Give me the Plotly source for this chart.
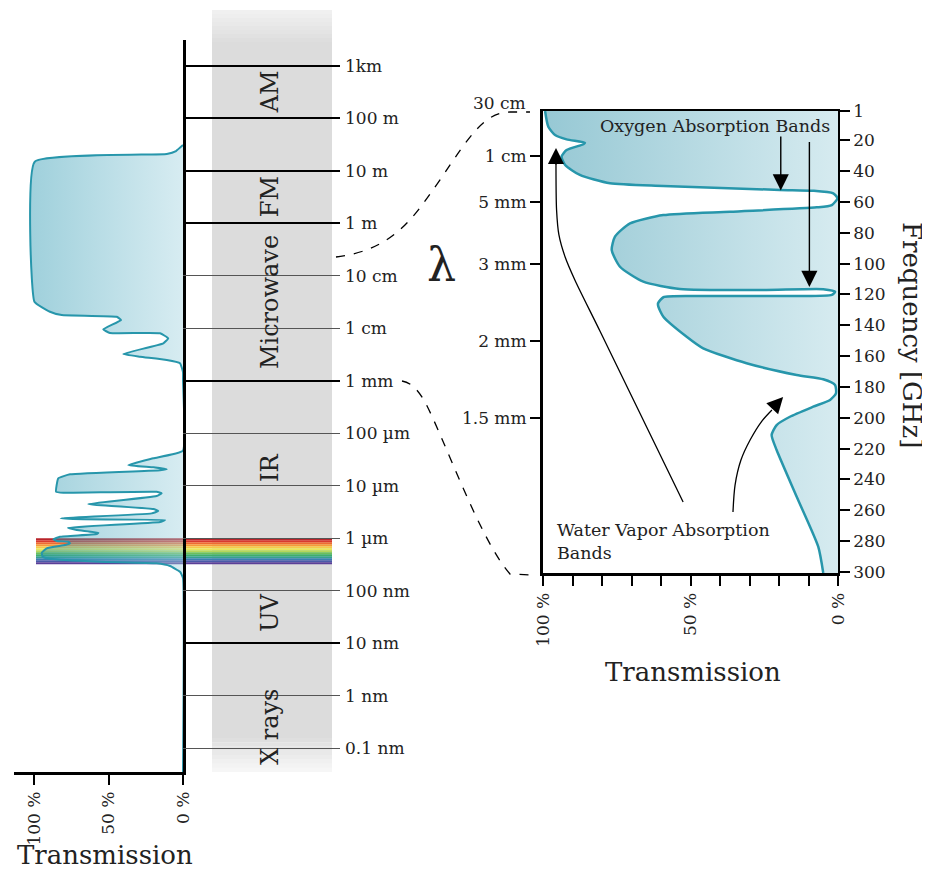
import plotly.graph_objects as go

# page body has an 8px margin: reference pixel coords are shifted by 8
W, H, OFF = 922, 863, 8
def px(x): return (x - OFF) / W
def py(y): return 1 - (y - OFF) / H

FONT = 'DejaVu Serif'
TEAL = '#2796ab'

# ---------------- Left panel: transmission vs wavelength (log10 of wavelength in m)
left_log_wl = [1.494, 1.380, 1.323, 1.176, -1.493, -1.684, -1.747, -1.779, -1.842, -2.019,
               -2.089, -2.095, -2.191, -2.286, -2.490, -2.541, -2.604, -2.667, -2.833, -2.986,
               -4.333, -4.478, -4.606, -4.650, -4.688, -4.707, -4.783, -4.859, -5.115, -5.134,
               -5.115, -5.145, -5.197, -5.349, -5.368, -5.445, -5.483, -5.527, -5.622, -5.641,
               -5.654, -5.692, -5.803, -5.845, -5.897, -5.921, -5.973, -6.022, -6.055, -6.068,
               -6.098, -6.131, -6.194, -6.278, -6.354, -6.392, -6.449, -6.480, -6.531, -6.640,
               -6.760, -10.457]
left_trans = [0, 4.7, 10.9, 99.5, 99.7, 89.3, 81.4, 44.5, 41.6, 53.5,
              49.0, 15.4, 9.9, 13.2, 40.1, 28.9, 10.9, 2.0, 0, 0,
              0, 19.9, 36.7, 19.9, 10.9, 15.4, 75.8, 83.7, 85.2, 80.3,
              17.7, 14.3, 17.7, 63.6, 57.9, 19.9, 16.6, 21.0, 82.1, 66.9,
              12.1, 15.4, 77.2, 71.3, 56.8, 57.9, 82.6, 87.0, 84.8, 77.0,
              75.8, 79.2, 91.5, 94.8, 94.2, 89.3, 55.7, 17.7, 8.7, 2.0,
              0, 0]

scale_log = [3, 2, 1, 0, -1, -2, -3, -4, -5, -6, -7, -8, -9, -10]
scale_labels = ['1km', '100 m', '10 m', '1 m', '10 cm', '1 cm', '1 mm', '100 µm', '10 µm',
                '1 µm', '100 nm', '10 nm', '1 nm', '0.1 nm']
scale_major = [True, True, True, True, False, False, True, False, False, False, False, True, False, False]

band_names = ['AM', 'FM', 'Microwave', 'IR', 'UV', 'X rays']
band_centers_log = [2.5, 0.5, -1.5, -4.66, -7.42, -9.6]

visible_log = [-6.0, -6.496]
rainbow_colors = ['#b8232a', '#d93a2f', '#ee6a33', '#f59a3a', '#f6c94a', '#e9e65a', '#b5d65a',
                  '#6cbf5a', '#3fae6a', '#36a08f', '#3a7fb0', '#4a5aa8', '#5a3f98']

# ---------------- Right panel: transmission vs frequency (GHz)
freq_ghz = [1, 11.2, 16.6, 19.4, 21.6, 22.6, 26.3, 30.6, 36.0, 42.5, 47.9, 49.6, 52.2, 52.7,
            54.4, 57.6, 62.0, 63.5, 66.3, 68.5, 73.9, 82.5, 91.2, 102.0, 111.7, 116.4, 117.1,
            116.6, 118.2, 120.3, 121.0, 121.0, 121.8, 125.7, 127.9, 134.4, 147.4, 154.9, 164.6,
            172.2, 175.0, 178.7, 184.1, 188.4, 192.8, 199.3, 204.7, 211.1, 220.9, 251.2, 283.6, 300.6]
trans_mw = [99.3, 98.2, 95.9, 92.0, 85.8, 86.3, 92.0, 93.7, 92.5, 87.5, 77.3, 59.2, 19.7, 8.4,
            1.6, 0.2, 2.1, 7.2, 36.6, 59.2, 70.5, 75.6, 76.7, 73.9, 66.0, 53.6, 25.3,
            5.0, 1.0, 2.1, 14.0, 47.9, 59.2, 61.0, 60.9, 59.2, 51.3, 45.7, 31.0,
            14.0, 5.0, 1.0, 0.7, 2.7, 8.4, 16.3, 20.8, 22.5, 20.8, 14.0, 6.7, 5.0]

freq_ticks = [1, 20, 40, 60, 80, 100, 120, 140, 160, 180, 200, 220, 240, 260, 280, 300]
wl_tick_freq = [30, 60, 100, 150, 200]
wl_tick_labels = ['1 cm', '5 mm', '3 mm', '2 mm', '1.5 mm']
trans_ticks = list(range(0, 101, 10))
trans_ticktext = ['0 %' if v == 0 else '50 %' if v == 50 else '100 %' if v == 100 else '' for v in trans_ticks]

# annotation arrow geometry (transmission %, GHz)
wv_arrow1_t = [52.5, 80.7, 89.2, 92.5, 94.6, 95.4, 95.6]
wv_arrow1_f = [254.6, 143.7, 110.6, 95.7, 81.4, 65.2, 30.0]
wv_arrow2_t = [35.6, 34.9, 32.9, 29.8, 25.8, 22.4]
wv_arrow2_f = [261.1, 243.6, 227.4, 214.4, 202.1, 194.9]

fig = go.Figure()

fig.add_trace(go.Scatter(
    x=left_trans, y=left_log_wl, xaxis='x', yaxis='y', mode='lines',
    line=dict(color=TEAL, width=2, shape='spline', smoothing=0.35),
    fill='tozerox',
    fillgradient=dict(type='horizontal', start=100, stop=0,
                      colorscale=[[0, 'rgba(30,145,172,0.42)'], [1, 'rgba(160,210,223,0.42)']]),
    hoverinfo='skip'))

fig.add_trace(go.Scatter(
    x=trans_mw, y=freq_ghz, xaxis='x2', yaxis='y2', mode='lines',
    line=dict(color=TEAL, width=2.5, shape='spline', smoothing=0.6),
    fill='tozerox',
    fillgradient=dict(type='horizontal', start=100, stop=0,
                      colorscale=[[0, '#96c8d4'], [1, '#d6ebf0']]),
    hoverinfo='skip'))

for xs, ys in [(wv_arrow1_t, wv_arrow1_f), (wv_arrow2_t, wv_arrow2_f)]:
    fig.add_trace(go.Scatter(x=xs, y=ys, xaxis='x2', yaxis='y2', mode='lines',
                             line=dict(color='black', width=1.3, shape='spline', smoothing=0.8),
                             hoverinfo='skip'))

for xa, ya in [('x4', 'y4'), ('x4', 'y5'), ('x2', 'y3'), ('x3', 'y2')]:
    fig.add_trace(go.Scatter(x=[], y=[], xaxis=xa, yaxis=ya, hoverinfo='skip'))

shapes = []
# grey band with faded ends
band_x0, band_x1 = px(212), px(332)
shapes.append(dict(type='rect', xref='paper', yref='paper', x0=band_x0, x1=band_x1,
                   y0=py(738), y1=py(42), fillcolor='#dcdcdc', line_width=0, layer='below'))
n = 8
for i in range(n):
    a = (i + 1) / (n + 1)
    t0 = 10 + 32 * i / n
    t1 = 10 + 32 * (i + 1) / n
    shapes.append(dict(type='rect', xref='paper', yref='paper', x0=band_x0, x1=band_x1,
                       y0=py(t1), y1=py(t0), fillcolor='rgba(220,220,220,%.3f)' % (0.35 + 0.65 * a),
                       line_width=0, layer='below'))
    b0 = 738 + 34 * i / n
    b1 = 738 + 34 * (i + 1) / n
    shapes.append(dict(type='rect', xref='paper', yref='paper', x0=band_x0, x1=band_x1,
                       y0=py(b1), y1=py(b0), fillcolor='rgba(220,220,220,%.3f)' % (1 - 0.85 * a),
                       line_width=0, layer='below'))
# rainbow (visible light)
nr = len(rainbow_colors)
for i, c in enumerate(rainbow_colors):
    y_top = visible_log[0] + (visible_log[1] - visible_log[0]) * i / nr
    y_bot = visible_log[0] + (visible_log[1] - visible_log[0]) * (i + 1) / nr
    shapes.append(dict(type='rect', xref='paper', yref='y4', x0=px(36), x1=px(332),
                       y0=y_bot, y1=y_top, fillcolor=c, line_width=0, layer='below'))

def path(cmds):
    s = ''
    for c, pts in cmds:
        s += c + ' ' + ' '.join('%.5f,%.5f' % (px(a), py(b)) for a, b in pts) + ' '
    return s.strip()

shapes.append(dict(type='path', xref='paper', yref='paper',
                   path=path([('M', [(336, 257)]), ('C', [(395, 250), (415, 215), (440, 180)]),
                              ('C', [(470, 135), (485, 112), (510, 112)]), ('L', [(530, 112)])]),
                   line=dict(color='black', width=1.3, dash='dash')))
shapes.append(dict(type='path', xref='paper', yref='paper',
                   path=path([('M', [(402, 381)]), ('C', [(412, 383), (418, 390), (425, 402)]),
                              ('C', [(445, 440), (480, 540), (510, 574)]), ('L', [(530, 575)])]),
                   line=dict(color='black', width=1.3, dash='dash')))

ann = []
for name, c in zip(band_names, band_centers_log):
    ann.append(dict(text=name, xref='paper', yref='y4', x=px(270), y=c, textangle=-90,
                    xanchor='center', yanchor='middle',
                    showarrow=False, font=dict(family=FONT, size=24, color='#222')))

def txt(t, x, y, size=16, **kw):
    d = dict(text=t, xref='paper', yref='paper', x=px(x), y=py(y), showarrow=False,
             xanchor='center', yanchor='middle',
             font=dict(family=FONT, size=size, color='#222'))
    d.update(kw)
    ann.append(d)

txt('Transmission', 105, 871, 26, yanchor='bottom', borderpad=0)
txt('Transmission', 693, 672, 26)
txt('Frequency [GHz]', 912, 335, 26, textangle=90)
txt('λ', 441, 265, 46)
txt('30 cm', 500, 103, 17)
txt('Oxygen Absorption Bands', 715, 126, 17.5)
txt('Water Vapor Absorption<br>Bands', 555, 541, 17.5, xanchor='left', align='left')

# straight oxygen arrows
for t, f_tip, f_tail in [(19.4, 52.5, 16.6), (9.7, 115.1, 20.2)]:
    ann.append(dict(text='', x=t, y=f_tip, ax=t, ay=f_tail, xref='x2', yref='y2',
                    axref='x2', ayref='y2', showarrow=True, arrowhead=2, arrowsize=2.3,
                    arrowwidth=1.4, arrowcolor='black', standoff=0))
# heads for curved water vapour arrows
ann.append(dict(text='', x=95.6, y=25.0, ax=0, ay=18, xref='x2', yref='y2', showarrow=True,
                arrowhead=2, arrowsize=2.3, arrowwidth=1.4, arrowcolor='black', standoff=0))
ann.append(dict(text='', x=18.6, y=186.5, ax=-12, ay=13, xref='x2', yref='y2', showarrow=True,
                arrowhead=2, arrowsize=2.3, arrowwidth=1.4, arrowcolor='black', standoff=0))

tickfont = dict(family=FONT, size=17, color='#222')
left_range = [-10.457, 3.496]
right_range = [300.65, 1]
base = dict(showgrid=False, zeroline=False)

fig.update_layout(
    width=W, height=H, margin=dict(l=0, r=0, t=0, b=0),
    paper_bgcolor='white', plot_bgcolor='rgba(0,0,0,0)', showlegend=False,
    template='none',
    xaxis=dict(base, domain=[px(14), px(183)], range=[113.42, 0], anchor='y',
               showline=True, linewidth=2.5, linecolor='black', ticks='outside', ticklen=10,
               tickwidth=2, tickcolor='black', tickmode='array', tickvals=[100, 50, 0],
               ticktext=['100 %', '50 %', '0 %'], tickangle=-90, tickfont=tickfont),
    yaxis=dict(base, domain=[py(772), py(40)], range=left_range, anchor='x', side='right',
               showline=True, linewidth=2.5, linecolor='black', showticklabels=False, ticks=''),
    xaxis4=dict(base, domain=[px(183), px(340)], range=[0, 1], anchor='y4', visible=False),
    yaxis4=dict(domain=[py(772), py(40)], range=left_range, anchor='x4', side='right',
                zeroline=False, showline=False, showgrid=True, gridcolor='#555', gridwidth=1.3,
                tickmode='array', tickvals=[v for v, m in zip(scale_log, scale_major) if not m],
                ticktext=[l for l, m in zip(scale_labels, scale_major) if not m],
                ticks='', tickfont=tickfont, ticklabelstandoff=4),
    yaxis5=dict(overlaying='y4', range=left_range, anchor='x4', side='right',
                zeroline=False, showline=False, showgrid=True, gridcolor='black', gridwidth=2.4,
                tickmode='array', tickvals=[v for v, m in zip(scale_log, scale_major) if m],
                ticktext=[l for l, m in zip(scale_labels, scale_major) if m],
                ticks='', tickfont=tickfont, ticklabelstandoff=4),
    xaxis2=dict(base, domain=[px(543), px(838)], range=[100, 0], anchor='y2',
                showline=True, linewidth=3, linecolor='black', ticks='outside', ticklen=10,
                tickwidth=1.5, tickcolor='black', tickmode='array', tickvals=trans_ticks,
                ticktext=trans_ticktext, tickangle=-90, tickfont=tickfont),
    xaxis3=dict(base, overlaying='x2', range=[100, 0], anchor='y2', side='top',
                showline=True, linewidth=1.5, linecolor='black', ticks='', showticklabels=False),
    yaxis2=dict(base, domain=[py(573), py(111)], range=right_range, anchor='x2', side='right',
                showline=True, linewidth=1.5, linecolor='black', ticks='outside', ticklen=10,
                tickwidth=1.5, tickcolor='black', tickmode='array', tickvals=freq_ticks,
                tickfont=tickfont),
    yaxis3=dict(base, overlaying='y2', range=right_range, anchor='x2', side='left',
                showline=True, linewidth=3, linecolor='black', ticks='outside', ticklen=10,
                tickwidth=1.5, tickcolor='black', tickmode='array', tickvals=wl_tick_freq,
                ticktext=wl_tick_labels, tickfont=tickfont),
    shapes=shapes, annotations=ann,
)

fig.write_html('out.html')
